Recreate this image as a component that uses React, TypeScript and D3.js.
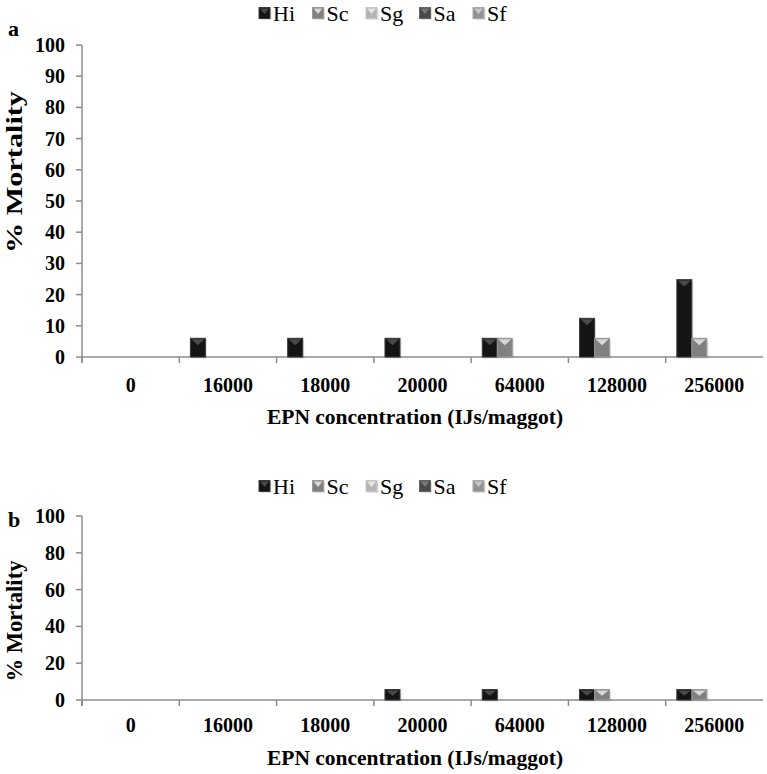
import React from "react";
import * as d3 from "d3";

const categories = ["0", "16000", "18000", "20000", "64000", "128000", "256000"];
const seriesNames = ["Hi", "Sc", "Sg", "Sa", "Sf"];

// panel a
const aHi = [0, 6, 6, 6, 6, 12.4, 24.8];
const aSc = [0, 0, 0, 0, 6, 6, 6];
const aSg = [0, 0, 0, 0, 0, 0, 0];
const aSa = [0, 0, 0, 0, 0, 0, 0];
const aSf = [0, 0, 0, 0, 0, 0, 0];
const aTicks = [0, 10, 20, 30, 40, 50, 60, 70, 80, 90, 100];

// panel b
const bHi = [0, 0, 0, 5.7, 5.7, 5.7, 5.7];
const bSc = [0, 0, 0, 0, 0, 5.7, 5.7];
const bSg = [0, 0, 0, 0, 0, 0, 0];
const bSa = [0, 0, 0, 0, 0, 0, 0];
const bSf = [0, 0, 0, 0, 0, 0, 0];
const bTicks = [0, 20, 40, 60, 80, 100];

const fills: Record<string, string> = { Hi: "#141414", Sc: "#808080", Sg: "#b4b4b4", Sa: "#4a4a4a", Sf: "#939393" };
const tops: Record<string, string> = { Hi: "#4a4a4a", Sc: "#d8d8d8", Sg: "#e6e6e6", Sa: "#777", Sf: "#c8c8c8" };
const edges: Record<string, string> = { Hi: "#3a3a3a", Sc: "#9a9a9a", Sg: "#c8c8c8", Sa: "#666", Sf: "#aaa" };

const FONT = "'Liberation Serif', 'Times New Roman', serif";
const AXIS = "#8c8c8c";

function BevelBar({ x, y, w, h, name }: { x: number; y: number; w: number; h: number; name: string }) {
  const t = Math.min(6, h / 2);
  return (
    <g>
      <rect x={x + 1.5} y={y + 1.5} width={w} height={h} fill="#000" opacity={0.12} />
      <rect x={x} y={y} width={w} height={h} fill={fills[name]} stroke={edges[name]} strokeWidth={1} />
      <path d={`M${x + 1},${y + 1}L${x + w - 1},${y + 1}L${x + w / 2},${y + 1 + t}Z`} fill={tops[name]} />
    </g>
  );
}

function Legend({ cy }: { cy: number }) {
  const xs = d3.scaleLinear().domain([0, 4]).range([259, 473]);
  return (
    <g>
      {seriesNames.map((s, i) => (
        <g key={s}>
          <BevelBar x={xs(i)} y={cy - 5.5} w={11} h={11} name={s} />
          <text x={xs(i) + 14} y={cy} dy="0.35em" fontFamily={FONT} fontSize={22} fill="#000">
            {s}
          </text>
        </g>
      ))}
    </g>
  );
}

function Panel({
  letter, values, ticks, top, bottom, legendY, letterY, titleY, titleStretch, tickLabelY, xTitleY,
}: {
  letter: string; values: number[][]; ticks: number[]; top: number; bottom: number;
  legendY: number; letterY: number; titleY: number; titleStretch: number; tickLabelY: number; xTitleY: number;
}) {
  const x0 = d3.scaleBand<string>().domain(categories).range([82, 763]).padding(0);
  const x1 = d3.scaleBand<string>().domain(seriesNames).range([0, x0.bandwidth()]).paddingInner(0).paddingOuter(0.74);
  const y = d3.scaleLinear().domain([0, 100]).range([bottom, top]);

  return (
    <g>
      <Legend cy={legendY} />
      <text x={8} y={letterY} fontFamily={FONT} fontWeight="bold" fontSize={22}>{letter}</text>
      {/* y axis */}
      <line x1={82} x2={82} y1={y(100)} y2={bottom + 6} stroke={AXIS} strokeWidth={1.5} />
      {ticks.map((t) => (
        <g key={t}>
          <line x1={76} x2={82} y1={y(t)} y2={y(t)} stroke={AXIS} strokeWidth={1.5} />
          <text x={65} y={y(t)} dy="0.35em" textAnchor="end" fontFamily={FONT} fontWeight="bold" fontSize={20}>{t}</text>
        </g>
      ))}
      <text transform={`translate(22,${titleY}) rotate(-90) scale(${titleStretch},1)`} textAnchor="middle" fontFamily={FONT} fontWeight="bold" fontSize={24}>
        % Mortality
      </text>
      {/* x axis */}
      <line x1={82} x2={763} y1={bottom} y2={bottom} stroke={AXIS} strokeWidth={1.5} />
      {categories.map((c) => (
        <g key={c}>
          <line x1={x0(c)!} x2={x0(c)!} y1={bottom} y2={bottom + 6} stroke={AXIS} strokeWidth={1.5} />
          <text x={x0(c)! + x0.bandwidth() / 2} y={tickLabelY} dy="0.35em" textAnchor="middle" fontFamily={FONT} fontWeight="bold" fontSize={20}>{c}</text>
        </g>
      ))}
      <text x={415} y={xTitleY} dy="0.35em" textAnchor="middle" fontFamily={FONT} fontWeight="bold" fontSize={21.5}>
        EPN concentration (IJs/maggot)
      </text>
      {/* bars */}
      {seriesNames.map((s, si) =>
        categories.map((c, ci) => {
          const v = values[si][ci];
          if (!v) return null;
          return <BevelBar key={s + c} x={x0(c)! + x1(s)!} y={y(v)} w={x1.bandwidth()} h={bottom - y(v)} name={s} />;
        })
      )}
    </g>
  );
}

export default function App() {
  return (
    <svg width={767} height={774} style={{ position: "absolute", left: 0, top: 0, background: "#fff" }}>
      <rect width={767} height={774} fill="#fff" />
      <Panel letter="a" values={[aHi, aSc, aSg, aSa, aSf]} ticks={aTicks} top={45} bottom={357}
        legendY={13} letterY={36} titleY={172} titleStretch={1.26} tickLabelY={385} xTitleY={416} />
      <Panel letter="b" values={[bHi, bSc, bSg, bSa, bSf]} ticks={bTicks} top={516} bottom={700}
        legendY={486} letterY={527} titleY={621} titleStretch={0.94} tickLabelY={725} xTitleY={757} />
    </svg>
  );
}
